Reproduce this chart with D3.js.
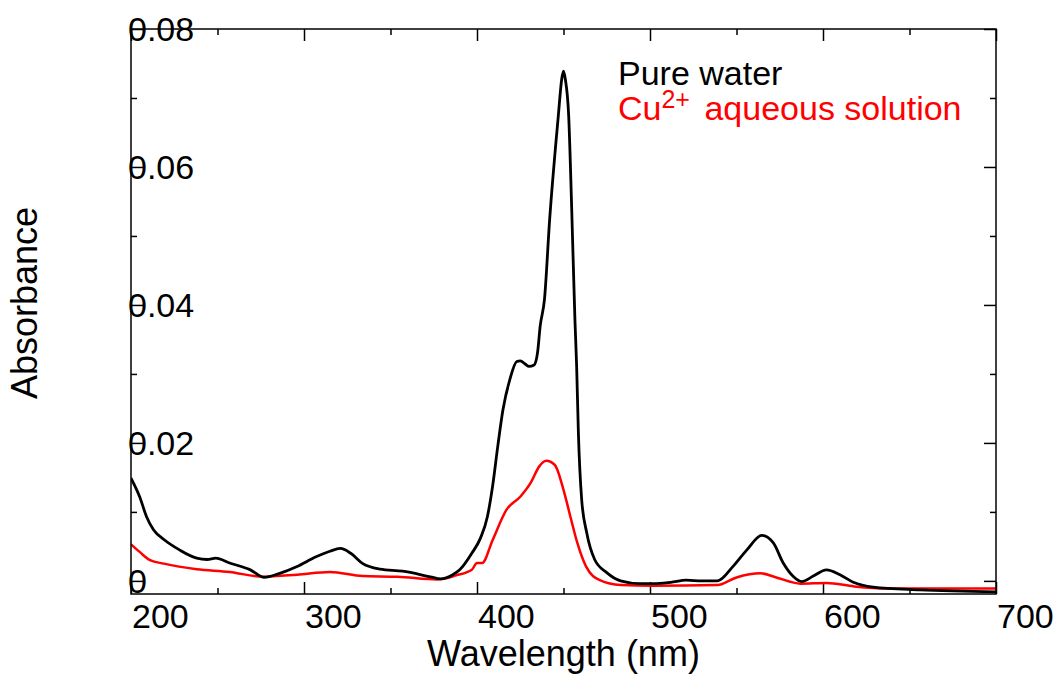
<!DOCTYPE html>
<meta charset="utf-8">
<style>
body{ margin:0; background:#fff; }
text{ font-family:"Liberation Sans", Arial, sans-serif; font-size:34px; }
.title{ font-size:36px; }
.frame{ fill:none; stroke:#000; stroke-width:1.5px; }
.axis path{ display:none; }
.axis line{ stroke:#000; stroke-width:1.5px; }
.curve{ fill:none; stroke-width:2.5px; stroke-linejoin:round; }
</style>
<body>
<div id="chart"></div>
<script src="https://d3js.org/d3.v7.min.js"></script>
<script>
// wavelength (nm) / absorbance
var pureWl = [200,205,209,213,219,228,238,244,249,257,269,277,286,296,307,315,321,327,334,344,357,373,379,386,390,397,402,406,409,412,415,419,423,425,428,430,433,435,436.5,439,442,447,449,450,451,453,454.7,456.6,457.6,458.6,460.5,463.4,468,475,483,494,502,512,521,530,539,548,556,564.6,571.3,577,583,587.7,594.4,602,609.8,617.5,629,656,700];
var pureAbs = [0.0149,0.0122,0.0093,0.0074,0.0060,0.0045,0.0033,0.0031,0.0033,0.0026,0.0016,0.0005,0.0011,0.0021,0.0035,0.0043,0.0047,0.0040,0.0025,0.0017,0.0014,0.0006,0.0003,0.0009,0.0016,0.0040,0.0062,0.0093,0.0137,0.0195,0.0248,0.0292,0.0318,0.0319,0.0314,0.0311,0.0313,0.0331,0.0369,0.0408,0.0524,0.0674,0.0728,0.0739,0.0728,0.0674,0.0543,0.0379,0.0311,0.0215,0.0118,0.0070,0.0031,0.0012,0.0000,-0.0004,-0.0004,-0.0002,0.0001,0.0000,0.0000,0.0021,0.0045,0.0066,0.0055,0.0026,0.0006,-0.0001,0.0007,0.0016,0.0009,-0.0002,-0.0009,-0.0013,-0.0016];

var cuWl = [200,205,211,219,238,257,276,296,315,334,354,377,388,397,400,403,409,417,425,431,436,440,445,450,454,458,463,471,483,502,539,550,564,573,587,602,618,637,700];
var cuAbs = [0.0053,0.0042,0.0030,0.0025,0.0017,0.0013,0.0006,0.0009,0.0013,0.0007,0.0006,0.0002,0.0008,0.0016,0.0026,0.0026,0.0059,0.0103,0.0122,0.0142,0.0166,0.0174,0.0168,0.0132,0.0093,0.0055,0.0021,0.0001,-0.0006,-0.0007,-0.0006,0.0005,0.0011,0.0005,-0.0004,-0.0003,-0.0008,-0.0011,-0.0011];

var xMajor = [200,300,400,500,600,700];
var xMinor = [250,350,450,550,650];
var yMajor = [0,0.02,0.04,0.06,0.08];
var yMinor = [0.01,0.03,0.05,0.07];
var yLabels = ["0","0.02","0.04","0.06","0.08"];

var W = 1056, H = 677;
var pL = 131, pT = 29, pR = 996, pB = 594;

var svg = d3.select("#chart").append("svg").attr("width", W).attr("height", H);

var x = d3.scaleLinear().domain([200,700]).range([pL,pR]);
var y = d3.scaleLinear().domain([-0.0019,0.08]).range([pB,pT]);

svg.append("defs").append("clipPath").attr("id","clip")
  .append("rect").attr("x",pL).attr("y",pT).attr("width",pR-pL).attr("height",pB-pT);

// ticks, all pointing inward
function ticks(axisFn, vals, size, tr){
  svg.append("g").attr("class","axis").attr("transform",tr)
    .call(axisFn.tickValues(vals).tickSize(-size).tickFormat(""));
}
ticks(d3.axisBottom(x), xMajor, 12, "translate(0,"+pB+")");
ticks(d3.axisBottom(x), xMinor, 6, "translate(0,"+pB+")");
ticks(d3.axisTop(x), xMajor, 12, "translate(0,"+pT+")");
ticks(d3.axisTop(x), xMinor, 6, "translate(0,"+pT+")");
ticks(d3.axisLeft(y), yMajor, 12, "translate("+pL+",0)");
ticks(d3.axisLeft(y), yMinor, 6, "translate("+pL+",0)");
ticks(d3.axisRight(y), yMajor, 12, "translate("+pR+",0)");
ticks(d3.axisRight(y), yMinor, 6, "translate("+pR+",0)");

var line = d3.line().x(d=>x(d[0])).y(d=>y(d[1])).curve(d3.curveMonotoneX);

var g = svg.append("g").attr("clip-path","url(#clip)");
g.append("path").attr("class","curve").attr("stroke","#ff0000")
  .attr("d", line(d3.zip(cuWl,cuAbs)));
g.append("path").attr("class","curve").attr("stroke","#000").style("stroke-width","2.8px")
  .attr("d", line(d3.zip(pureWl,pureAbs)));

svg.append("rect").attr("class","frame")
  .attr("x",pL).attr("y",pT).attr("width",pR-pL).attr("height",pB-pT);

// tick labels (original has them starting right at the tick)
svg.selectAll(".xl").data(xMajor).enter().append("text")
  .attr("x", d=>x(d)+1).attr("y", 628).text(d=>d);
svg.selectAll(".yl").data(yMajor).enter().append("text")
  .attr("x", pL-3).attr("y", d=>y(d)).attr("dy","0.35em")
  .text((d,i)=>yLabels[i]);

svg.append("text").attr("class","title").attr("x",(pL+pR)/2).attr("y",666)
  .style("text-anchor","middle").text("Wavelength (nm)");
svg.append("text").attr("class","title").attr("transform","translate(37,303) rotate(-90)")
  .style("text-anchor","middle").text("Absorbance");

// legend
svg.append("text").attr("x",618).attr("y",85).attr("fill","#000").text("Pure water");
var cu = svg.append("text").attr("x",618).attr("y",120).attr("fill","#ff0000");
cu.append("tspan").text("Cu");
cu.append("tspan").attr("dy",-12).style("font-size","25px").text("2+");
cu.append("tspan").attr("dy",12).attr("dx",5).text(" aqueous solution");
</script>
</body>
